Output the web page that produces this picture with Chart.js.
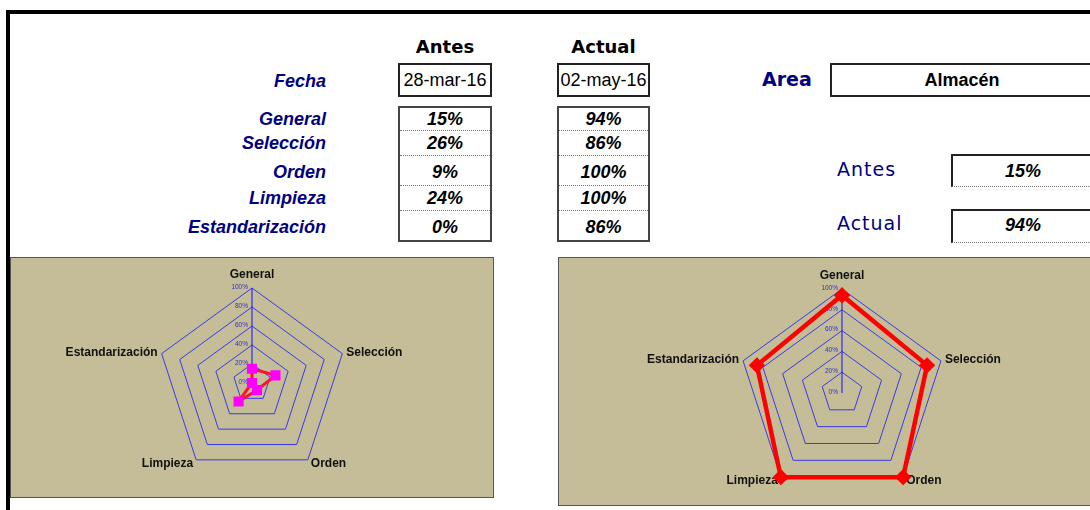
<!DOCTYPE html>
<html>
<head>
<meta charset="utf-8">
<script src="https://cdn.jsdelivr.net/npm/chart.js@4"></script>
<style>
  body { margin: 0; width: 1090px; height: 510px; overflow: hidden; background: #fff; position: relative; font-family: Arial, "Liberation Sans", sans-serif; }
  .abs { position: absolute; }
  .bar { position: absolute; background: #000; }
  .comic { font-family: "Comic Sans MS", "DejaVu Sans", sans-serif; color: #000080; }
  .lbl { position: absolute; font-weight: bold; font-style: italic; font-size: 18px; color: #000080; text-align: right; width: 300px; line-height: 20px; }
  .box { position: absolute; box-sizing: border-box; border: 2px solid #222; background: #fff; }
  .val { position: absolute; font-weight: bold; font-style: italic; font-size: 18px; color: #000; text-align: center; line-height: 20px; }
  .dot { position: absolute; height: 0; border-top: 1px dotted #777; }
  .panel { position: absolute; box-sizing: border-box; border: 1px solid #555; background: #C4BD97; }
  .panel div { position: absolute; left: 0; top: 0; }
</style>
</head>
<body>
<div class="bar" style="left:6px;top:10px;width:1084px;height:4px"></div>
<div class="bar" style="left:6px;top:10px;width:4px;height:500px"></div>

<div class="abs comic" style="left:398px;top:36px;width:94px;text-align:center;font-weight:bold;font-size:18px;color:#000">Antes</div>
<div class="abs comic" style="left:557px;top:36px;width:93px;text-align:center;font-weight:bold;font-size:18px;color:#000">Actual</div>
<div class="lbl" style="left:26px;top:71px">Fecha</div>
<div id="fechaAntes" class="box" style="left:398px;top:63px;width:94px;height:34px;font-size:18px;text-align:center;line-height:30px"></div>
<div id="fechaActual" class="box" style="left:557px;top:63px;width:93px;height:34px;font-size:18px;text-align:center;line-height:30px"></div>
<div class="box" style="left:398px;top:106px;width:94px;height:136px;border-color:#444"></div>
<div class="box" style="left:557px;top:106px;width:93px;height:136px;border-color:#444"></div>
<div id="tabla"></div>

<div class="abs comic" style="left:762px;top:68px;font-weight:bold;font-size:19px">Area</div>
<div id="area" class="box" style="left:830px;top:63px;width:264px;height:34px;font-size:18px;font-weight:bold;text-align:center;line-height:30px"></div>
<div class="abs comic" style="left:837px;top:158px;font-size:19px;letter-spacing:1px">Antes</div>
<div class="box" style="left:951px;top:154px;width:150px;height:33px;border-bottom:1px dotted #777"></div>
<div id="resAntes" class="val" style="left:951px;top:161px;width:144px"></div>
<div class="abs comic" style="left:837px;top:212px;font-size:19px;letter-spacing:1px">Actual</div>
<div class="box" style="left:951px;top:209px;width:150px;height:34px;border-bottom:1px dotted #777"></div>
<div id="resActual" class="val" style="left:951px;top:215px;width:144px"></div>

<div class="panel" style="left:10px;top:257px;width:484px;height:241px">
  <div style="width:482px;height:239px"><canvas id="chartAntes"></canvas></div>
</div>
<div class="panel" style="left:558px;top:257px;width:540px;height:249px">
  <div style="width:531px;height:247px"><canvas id="chartActual"></canvas></div>
</div>

<script>
const categorias = ["General", "Selección", "Orden", "Limpieza", "Estandarización"];
const antes = [0.15, 0.26, 0.09, 0.24, 0];
const actual = [0.94, 0.86, 1.00, 1.00, 0.86];
const fechas = ["28-mar-16", "02-may-16"];
const area = "Almacén";
const tickValues = [0, 0.2, 0.4, 0.6, 0.8, 1];
const tickLabels = ["0%", "20%", "40%", "60%", "80%", "100%"];

const pct = (v) => Math.round(v * 100) + "%";

// tabla de arriba
const rowCenters = [119, 143, 172, 198, 227];
const rowLines = [130, 155, 185, 210];
let html = "";
categorias.forEach((c, i) => {
    const y = rowCenters[i] - 10;
    html += '<div class="lbl" style="left:26px;top:' + y + 'px">' + c + '</div>';
    html += '<div class="val" style="left:398px;top:' + y + 'px;width:94px">' + pct(antes[i]) + '</div>';
    html += '<div class="val" style="left:557px;top:' + y + 'px;width:93px">' + pct(actual[i]) + '</div>';
});
rowLines.forEach((y) => {
    html += '<div class="dot" style="left:400px;top:' + y + 'px;width:90px"></div>';
    html += '<div class="dot" style="left:559px;top:' + y + 'px;width:89px"></div>';
});
document.getElementById("tabla").innerHTML = html;
document.getElementById("fechaAntes").textContent = fechas[0];
document.getElementById("fechaActual").textContent = fechas[1];
document.getElementById("area").textContent = area;
document.getElementById("resAntes").textContent = pct(antes[0]);
document.getElementById("resActual").textContent = pct(actual[0]);

// % a la izquierda del eje y nombres de las categorias al estilo excel
const radarText = {
    id: "radarText",
    beforeDatasetsDraw(chart) {
        const r = chart.scales.r;
        const c = chart.ctx;
        c.save();
        c.font = "6.5px Arial";
        c.fillStyle = "#3030d0";
        c.textAlign = "right";
        c.textBaseline = "middle";
        tickValues.forEach((v, i) => {
            const p = r.getPointPositionForValue(0, v);
            c.fillText(tickLabels[i], p.x - 4, p.y - 1);
        });

        c.font = "bold 12px Arial";
        c.fillStyle = "#111";
        categorias.forEach((lab, i) => {
            const p = r.getPointPosition(i, r.drawingArea);
            const a = r.getIndexAngle(i);
            const s = Math.sin(a);
            const k = Math.cos(a);
            if (Math.abs(s) < 0.1) {
                c.textAlign = "center";
                c.fillText(lab, p.x, p.y - 13);
            } else if (k > 0) {
                c.textAlign = s > 0 ? "left" : "right";
                c.fillText(lab, p.x + (s > 0 ? 4 : -4), p.y - 1);
            } else {
                c.textAlign = s > 0 ? "left" : "right";
                c.fillText(lab, p.x + (s > 0 ? 3 : -3), p.y + 4);
            }
        });
        c.restore();
    },
};

function radar(id, values, ds, padding) {
    return new Chart(document.getElementById(id), {
        type: "radar",
        data: {
            labels: categorias,
            datasets: [Object.assign({ data: values, fill: false, tension: 0, backgroundColor: "transparent" }, ds)],
        },
        options: {
            responsive: true,
            maintainAspectRatio: false,
            animation: false,
            layout: { padding: padding },
            plugins: { legend: { display: false }, tooltip: { enabled: false } },
            scales: {
                r: {
                    min: 0,
                    max: 1,
                    ticks: { display: false, stepSize: 0.2 },
                    grid: { color: "#3a3ae8", lineWidth: 1 },
                    angleLines: {
                        color: (ctx) => (ctx.index === 0 ? "#1010ff" : "rgba(0,0,0,0)"),
                        lineWidth: 1,
                    },
                    pointLabels: { display: false },
                },
            },
        },
        plugins: [radarText],
    });
}

radar("chartAntes", antes, {
    borderColor: "#ff1030",
    borderWidth: 3,
    pointStyle: "rect",
    pointRadius: 5,
    pointBackgroundColor: "#ff00ff",
    pointBorderColor: "#ff00ff",
}, { top: 30, bottom: 19 });

radar("chartActual", actual, {
    borderColor: "#ff0000",
    borderWidth: 4.5,
    pointStyle: "rectRot",
    pointRadius: 5,
    pointBackgroundColor: "#ff0000",
    pointBorderColor: "#ff0000",
}, { left: 35, top: 31, bottom: 8 });
</script>
</body>
</html>
